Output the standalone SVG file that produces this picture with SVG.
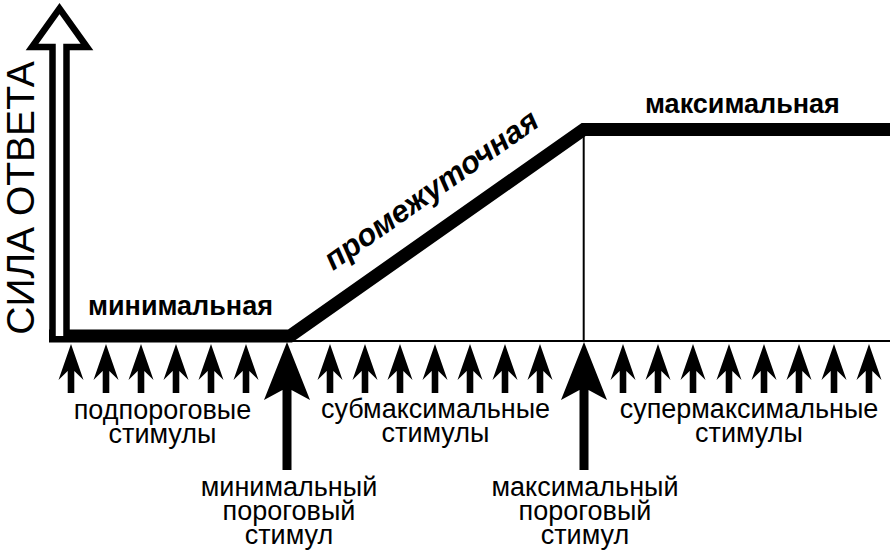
<svg xmlns="http://www.w3.org/2000/svg" width="890" height="554" viewBox="0 0 890 554">
<style>
.t{font-family:"Liberation Sans",Arial,sans-serif;font-size:27px;fill:#000;text-anchor:middle}
.b{font-family:"Liberation Sans",Arial,sans-serif;font-size:27px;font-weight:bold;fill:#000}
.thick{fill:none;stroke:#000;stroke-width:13;stroke-linejoin:miter}
.thin{fill:none;stroke:#000;stroke-width:2}
</style>
<defs>
<path id="sa" d="M0,0 L12.5,36 L3.3,27 L3.3,49 L-3.3,49 L-3.3,27 L-12.5,36 Z" fill="#000"/>
<path id="ba" d="M0,0 L23,58 L4.5,48 L4.5,128 L-4.5,128 L-4.5,48 L-23,58 Z" fill="#000"/>
</defs>
<rect width="890" height="554" fill="#fff"/>
<g id="connectors">
<path class="thin" d="M280,341 H890"/>
<path class="thin" d="M583.7,129.5 V341"/>
<path class="thick" d="M49,336 H290 L583.7,129.5 H890"/>
<path id="axis" d="M52.5,336 V47 H32 L59.5,8.5 L87,47 H66.5 V336" fill="#fff" stroke="#000" stroke-width="6.5" stroke-linejoin="miter"/>
</g>
<g id="axis-label">
<text class="t" style="font-size:39px" transform="translate(34,198) rotate(-90)">СИЛА ОТВЕТА</text>
</g>
<g id="curve-labels">
<text class="b" x="88" y="315">минимальная</text>
<text class="b" x="645" y="113">максимальная</text>
<text class="b" style="font-style:italic;font-size:31px" transform="translate(333,271) rotate(-35)">промежуточная</text>
</g>
<g id="subthreshold">
<use href="#sa" x="71" y="344"/><use href="#sa" x="106" y="344"/><use href="#sa" x="141" y="344"/>
<use href="#sa" x="176" y="344"/><use href="#sa" x="211" y="344"/><use href="#sa" x="246" y="344"/>
<text class="t" x="162.5" y="419">подпороговые</text>
<text class="t" x="162.5" y="443">стимулы</text>
</g>
<g id="submaximal">
<use href="#sa" x="330" y="344"/><use href="#sa" x="365" y="344"/><use href="#sa" x="400" y="344"/>
<use href="#sa" x="435" y="344"/><use href="#sa" x="470" y="344"/><use href="#sa" x="505" y="344"/>
<use href="#sa" x="540" y="344"/>
<text class="t" x="435.5" y="418">субмаксимальные</text>
<text class="t" x="435.5" y="442">стимулы</text>
</g>
<g id="supermaximal">
<use href="#sa" x="623" y="344"/><use href="#sa" x="658" y="344"/><use href="#sa" x="693" y="344"/>
<use href="#sa" x="729" y="344"/><use href="#sa" x="764" y="344"/><use href="#sa" x="799" y="344"/>
<use href="#sa" x="834" y="344"/><use href="#sa" x="869" y="344"/>
<text class="t" x="749" y="418">супермаксимальные</text>
<text class="t" x="749" y="442">стимулы</text>
</g>
<g id="min-threshold">
<use href="#ba" x="287" y="342"/>
<text class="t" x="289" y="496">минимальный</text>
<text class="t" x="289" y="520">пороговый</text>
<text class="t" x="289" y="544">стимул</text>
</g>
<g id="max-threshold">
<use href="#ba" x="584" y="342"/>
<text class="t" x="585" y="496">максимальный</text>
<text class="t" x="585" y="520">пороговый</text>
<text class="t" x="585" y="544">стимул</text>
</g>
</svg>
